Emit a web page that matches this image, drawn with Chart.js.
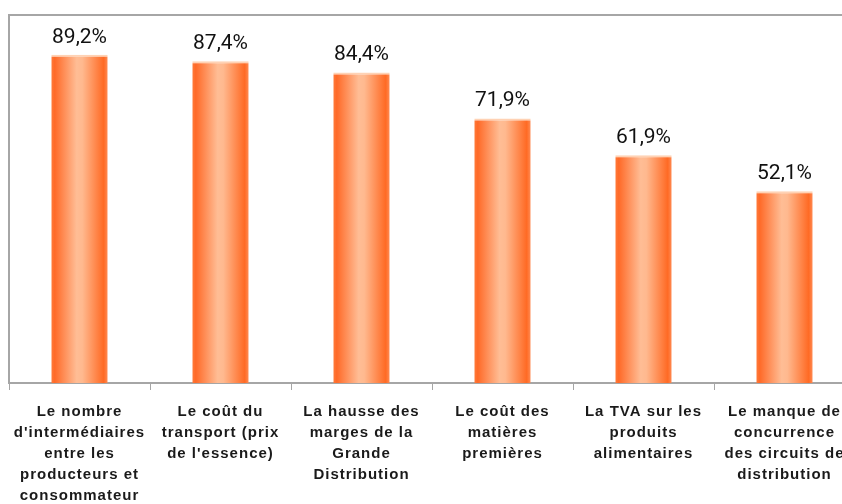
<!DOCTYPE html>
<html>
<head>
<meta charset="utf-8">
<script src="https://cdn.jsdelivr.net/npm/chart.js@4"></script>
<style>
	html, body { margin: 0; padding: 0; background: #fff; overflow: hidden; }
	#wrap { position: relative; width: 880px; height: 504px; }
</style>
</head>
<body>
<div id="wrap"><canvas id="bar-chart"></canvas></div>
<script>
// --- Data ---
const categories = [
	['Le nombre', "d'intermédiaires", 'entre les', 'producteurs et', 'consommateur'],
	['Le coût du', 'transport (prix', "de l'essence)"],
	['La hausse des', 'marges de la', 'Grande', 'Distribution'],
	['Le coût des', 'matières', 'premières'],
	['La TVA sur les', 'produits', 'alimentaires'],
	['Le manque de', 'concurrence', 'des circuits de', 'distribution']
];
const values = [89.2, 87.4, 84.4, 71.9, 61.9, 52.1];
const valueLabels = ['89,2%', '87,4%', '84,4%', '71,9%', '61,9%', '52,1%'];

const axisGray = '#a6a6a6';

// wider letter spacing for the category labels (canvas state)
const spacing = {
	id: 'spacing',
	beforeInit(chart) { chart.ctx.letterSpacing = '1px'; },
	beforeUpdate(chart) { chart.ctx.letterSpacing = '1px'; }
};

// gradient fill for every bar, built from its own position
const barGradient = {
	id: 'barGradient',
	beforeDatasetsDraw(chart) {
		const ctx = chart.ctx;
		chart.getDatasetMeta(0).data.forEach(bar => {
			const x0 = bar.x - bar.width / 2;
			const g = ctx.createLinearGradient(x0, 0, x0 + bar.width, 0);
			g.addColorStop(0, '#ff7a3a');
			g.addColorStop(0.06, '#ff6a28');
			g.addColorStop(0.45, '#ffbd95');
			g.addColorStop(0.55, '#ffb98f');
			g.addColorStop(0.93, '#ff6a24');
			g.addColorStop(1, '#ff8c55');
			bar.options.backgroundColor = g;
		});
	}
};

// value labels above bars + top / left frame
const valueText = {
	id: 'valueText',
	afterDatasetsDraw(chart) {
		const ctx = chart.ctx;
		const area = chart.chartArea;
		ctx.save();
		ctx.letterSpacing = '0px';
		ctx.strokeStyle = axisGray;
		ctx.lineWidth = 2;
		ctx.beginPath();
		ctx.moveTo(area.left, area.bottom);
		ctx.lineTo(area.left, area.top);
		ctx.lineTo(area.right, area.top);
		ctx.lineTo(area.right, area.bottom);
		ctx.stroke();
		ctx.fillStyle = '#111';
		ctx.font = '21px Roboto, "Liberation Sans", sans-serif';
		ctx.textAlign = 'center';
		ctx.textBaseline = 'alphabetic';
		chart.getDatasetMeta(0).data.forEach((bar, i) => {
			ctx.fillText(valueLabels[i], bar.x, bar.y - 12);
		});
		ctx.restore();
	}
};

const ctxBar = document.getElementById('bar-chart').getContext('2d');
new Chart(ctxBar, {
	type: 'bar',
	data: {
		labels: categories,
		datasets: [{
			data: values,
			// scriptable so each bar keeps its own options object
			backgroundColor: () => '#ff8a4c',
			borderColor: '#ffd2b4',
			borderWidth: { top: 2, left: 0, right: 0, bottom: 0 },
			borderSkipped: 'bottom',
			categoryPercentage: 1,
			barPercentage: 0.4
		}]
	},
	options: {
		responsive: true,
		maintainAspectRatio: false,
		animation: false,
		layout: { padding: { left: 9, right: 25, top: 15, bottom: -13 } },
		plugins: {
			legend: { display: false },
			tooltip: { enabled: false }
		},
		scales: {
			x: {
				grid: { display: true, drawOnChartArea: false, offset: true, color: axisGray, tickLength: 7, lineWidth: 1 },
				border: { color: axisGray, width: 2 },
				ticks: {
					color: '#1a1a1a',
					maxRotation: 0,
					autoSkip: false,
					padding: 11,
					font: { family: '"Liberation Sans", Arial, sans-serif', size: 15, weight: 'bold', lineHeight: 1.4 }
				}
			},
			y: {
				display: false,
				min: 0,
				max: 100
			}
		}
	},
	plugins: [spacing, barGradient, valueText]
});
</script>
</body>
</html>
